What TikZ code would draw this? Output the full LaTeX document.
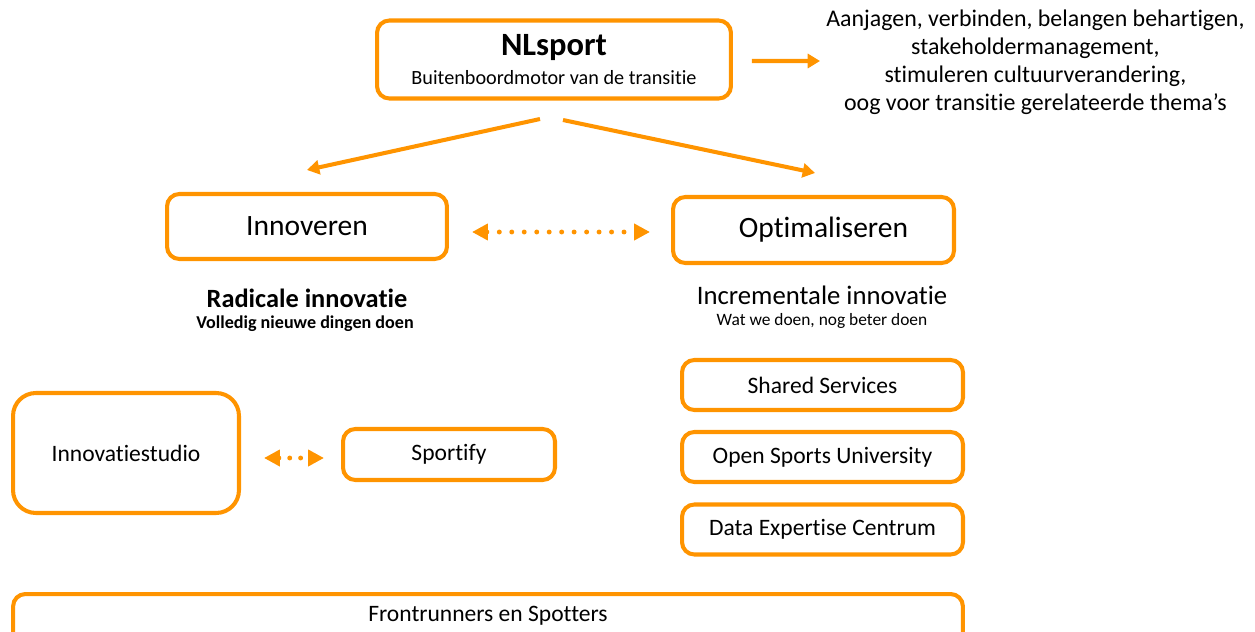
\documentclass[tikz,border=0pt]{standalone}
\usepackage{fontspec}
\setmainfont{Carlito}[Ligatures={NoCommon, NoContextual}]
\usepackage{tikz}
\usetikzlibrary{calc, arrows.meta}

\definecolor{nlorange}{RGB}{255,148,0}

\tikzset{
    box/.style={rectangle, rounded corners=7pt, draw=nlorange, line width=2.3pt, align=center, inner sep=0pt},
    arr/.style={draw=nlorange, line width=2.3pt, -{Triangle[length=7pt, width=8pt]}},
    dotarr/.style={draw=nlorange, line width=2.8pt, line cap=round, dash pattern=on 0pt off 7.1pt,
        {Triangle[length=9pt, width=9pt]}-{Triangle[length=9pt, width=9pt]}},
    boxfont/.style={font=\fontsize{13.4}{16}\selectfont}
}

\begin{document}
\begin{tikzpicture}[x=0.02cm, y=-0.02cm]

        \useasboundingbox (0,0) rectangle (1255,632);
        \clip (0,0) rectangle (1255,632);

        %% NLsport
        \node (nl) [box, minimum width=7.08cm, minimum height=1.56cm] at (554,59.5)
            {\fontsize{18.5}{20}\selectfont\bfseries NLsport\\[4pt]
             \fontsize{11.5}{13}\selectfont\mdseries Buitenboordmotor van de transitie};
        \node (tasks) [anchor=west, align=center, inner sep=0pt, font=\fontsize{13.6}{15.9}\selectfont] at (826,62)
            {Aanjagen, verbinden, belangen behartigen,\\stakeholdermanagement,\\stimuleren cultuurverandering,\\oog voor transitie gerelateerde thema’s};

        %% Two directions
        \node (innov) [box, minimum width=5.6cm, minimum height=1.3cm, font=\fontsize{16.8}{20}\selectfont] at (307,226.5) {Innoveren};
        \node (optim) [box, minimum width=5.62cm, minimum height=1.32cm, font=\fontsize{16.8}{20}\selectfont] at (813.5,230) {\hspace{0.4cm}Optimaliseren};

        %% Captions
        \node (radical) [font=\fontsize{15}{18}\selectfont\bfseries] at (307,298) {Radicale innovatie};
        \node (radicalsub) [font=\fontsize{10.3}{12}\selectfont\bfseries] at (305,324) {Volledig nieuwe dingen doen};
        \node (increm) [font=\fontsize{15.2}{18}\selectfont] at (822,295) {Incrementale innovatie};
        \node (incremsub) [font=\fontsize{9.9}{12}\selectfont] at (822,321) {Wat we doen, nog beter doen};

        %% Radical side
        \node (studio) [box, rounded corners=13pt, minimum width=4.52cm, minimum height=2.4cm, boxfont] at (126,453) {Innovatiestudio};
        \node (sportify) [box, minimum width=4.24cm, minimum height=1.02cm, boxfont] at (449,454.5) {Sportify};

        %% Incremental side
        \node (shared) [box, minimum width=5.62cm, minimum height=1cm, boxfont] at (822.5,385) {Shared Services};
        \node (osu) [box, minimum width=5.62cm, minimum height=1cm, boxfont] at (822.5,457) {Open Sports University};
        \node (dec) [box, minimum width=5.62cm, minimum height=1cm, boxfont] at (822.5,529.5) {Data Expertise Centrum};

        %% Bottom bar
        \node (front) [box, anchor=north, minimum width=19cm, minimum height=1.6cm,
            label={[anchor=center, yshift=-0.48cm, boxfont]north:Frontrunners en Spotters}] at (488,592) {};

        %% Arrows
        \draw [arr] ($(nl.east) + (19,1.5)$) -- ($(tasks.west) + (-6,-1)$);
        \draw [arr] ($(nl.south) + (-14,18.5)$) -- ($(innov.north) + (0,-22)$);
        \draw [arr] ($(nl.south) + (9,19.5)$) -- ($(optim.north) + (1.5,-22)$);
        \draw [dotarr] ($(innov.east) + (23,5.5)$) -- ($(optim.west) + (-21,2)$);
        \draw [dotarr, dash pattern=on 0pt off 6.2pt] ($(studio.east) + (23,5)$) -- ($(sportify.west) + (-17,3.5)$);

\end{tikzpicture}
\end{document}
